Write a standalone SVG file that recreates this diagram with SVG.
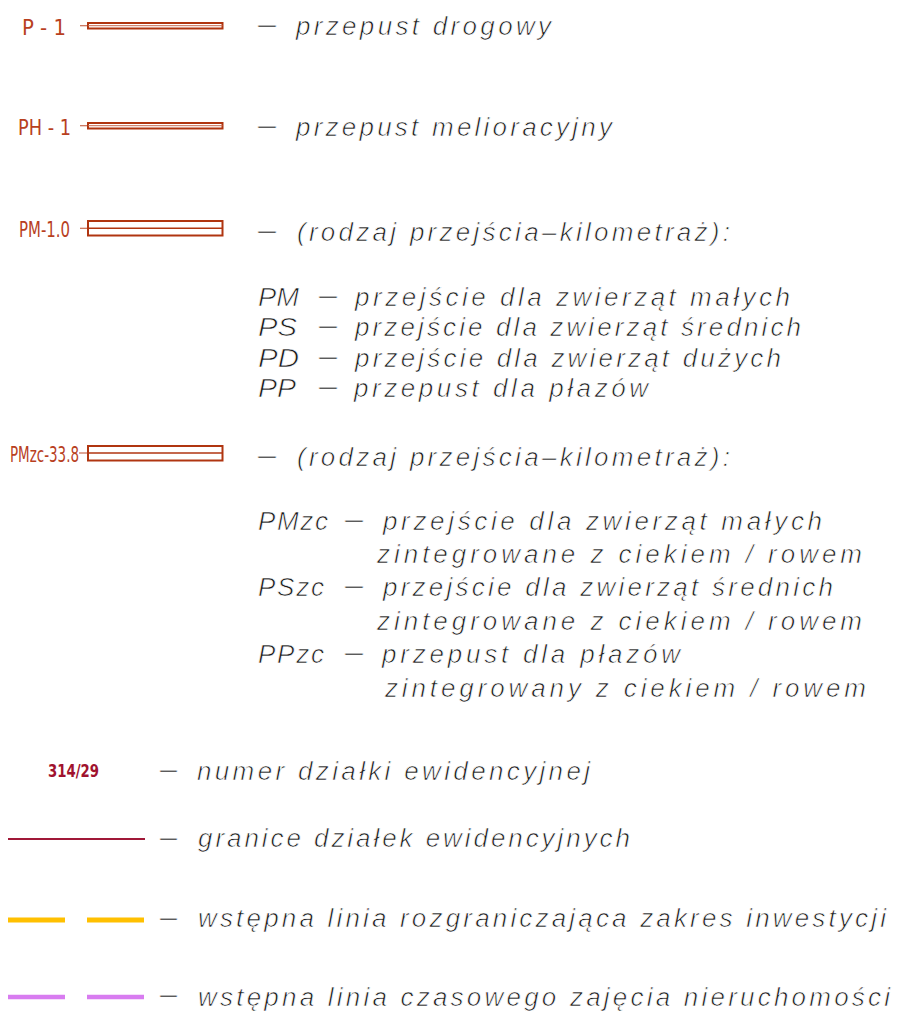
<svg xmlns="http://www.w3.org/2000/svg" width="903" height="1024" viewBox="0 0 903 1024">
<style>
.t{font-family:"Liberation Sans",Arimo,sans-serif;font-style:italic;font-size:26px;fill:#1a1a1a;stroke:#ffffff;stroke-width:0.7}
.d{font-family:"Liberation Sans",Arimo,sans-serif;font-size:26px;fill:#111111;stroke:#ffffff;stroke-width:0.4}
.lbl{font-family:"Liberation Sans Narrow","DejaVu Sans Condensed","Liberation Sans",sans-serif;font-size:22px;fill:#b8401e}
.out{fill:none;stroke:#b03510;stroke-width:2}
.inn{fill:none;stroke:#c86a50;stroke-width:1}
.lead{fill:none;stroke:#c86a50;stroke-width:1.2}
</style>
<rect width="903" height="1024" fill="#ffffff"/>
<g id="p1">
<text class="lbl" x="22" y="35" textLength="44" lengthAdjust="spacingAndGlyphs">P - 1</text>
<line class="lead" x1="80" y1="25.7" x2="88" y2="25.7"/>
<rect class="out" x="88" y="23" width="134.5" height="5.5"/>
<line class="inn" x1="88" y1="25.7" x2="222.5" y2="25.7"/>
<text class="d" x="258" y="33" textLength="18" lengthAdjust="spacingAndGlyphs">–</text>
<text class="t" x="296" y="35" textLength="255" lengthAdjust="spacing">przepust drogowy</text>
</g>
<g id="ph1">
<text class="lbl" x="18" y="135" textLength="53" lengthAdjust="spacingAndGlyphs">PH - 1</text>
<line class="lead" x1="80" y1="125.7" x2="88" y2="125.7"/>
<rect class="out" x="88" y="123" width="134.5" height="5.5"/>
<line class="inn" x1="88" y1="125.7" x2="222.5" y2="125.7"/>
<text class="d" x="258" y="134" textLength="18" lengthAdjust="spacingAndGlyphs">–</text>
<text class="t" x="296" y="136" textLength="316" lengthAdjust="spacing">przepust melioracyjny</text>
</g>
<g id="pm">
<text class="lbl" x="19" y="237" textLength="51" lengthAdjust="spacingAndGlyphs">PM-1.0</text>
<line class="lead" x1="80" y1="228.3" x2="88" y2="228.3"/>
<rect class="out" x="88" y="221" width="134.5" height="14.5"/>
<line class="out" x1="88" y1="228.3" x2="222.5" y2="228.3" style="stroke-width:1.5"/>
<text class="d" x="258" y="239" textLength="18" lengthAdjust="spacingAndGlyphs">–</text>
<text class="t" x="297" y="241" textLength="433" lengthAdjust="spacing">(rodzaj przejścia–kilometraż):</text>
<text class="t" x="258" y="306" textLength="41" lengthAdjust="spacingAndGlyphs">PM</text>
<text class="d" x="319" y="304" textLength="18" lengthAdjust="spacingAndGlyphs">–</text>
<text class="t" x="355" y="306" textLength="435" lengthAdjust="spacing">przejście dla zwierząt małych</text>
<text class="t" x="258" y="336" textLength="39" lengthAdjust="spacingAndGlyphs">PS</text>
<text class="d" x="319" y="334" textLength="18" lengthAdjust="spacingAndGlyphs">–</text>
<text class="t" x="355" y="336" textLength="446" lengthAdjust="spacing">przejście dla zwierząt średnich</text>
<text class="t" x="258" y="366.5" textLength="41" lengthAdjust="spacingAndGlyphs">PD</text>
<text class="d" x="319" y="364.5" textLength="18" lengthAdjust="spacingAndGlyphs">–</text>
<text class="t" x="355" y="366.5" textLength="426" lengthAdjust="spacing">przejście dla zwierząt dużych</text>
<text class="t" x="258" y="397" textLength="38" lengthAdjust="spacingAndGlyphs">PP</text>
<text class="d" x="319" y="395" textLength="18" lengthAdjust="spacingAndGlyphs">–</text>
<text class="t" x="354" y="397" textLength="294" lengthAdjust="spacing">przepust dla płazów</text>
</g>
<g id="pmzc">
<text class="lbl" x="10" y="462" textLength="69" lengthAdjust="spacingAndGlyphs">PMzc-33.8</text>
<line class="lead" x1="79" y1="453" x2="88" y2="453"/>
<rect class="out" x="88" y="446" width="134.5" height="14.5"/>
<line class="out" x1="88" y1="453" x2="222.5" y2="453" style="stroke-width:1.5"/>
<text class="d" x="258" y="464" textLength="18" lengthAdjust="spacingAndGlyphs">–</text>
<text class="t" x="297" y="466" textLength="433" lengthAdjust="spacing">(rodzaj przejścia–kilometraż):</text>
<text class="t" x="258" y="530" textLength="70" lengthAdjust="spacing">PMzc</text>
<text class="d" x="345" y="528" textLength="18" lengthAdjust="spacingAndGlyphs">–</text>
<text class="t" x="383" y="530" textLength="439" lengthAdjust="spacing">przejście dla zwierząt małych</text>
<text class="t" x="377" y="563" textLength="485" lengthAdjust="spacing">zintegrowane z ciekiem / rowem</text>
<text class="t" x="258" y="596" textLength="66" lengthAdjust="spacing">PSzc</text>
<text class="d" x="345" y="594" textLength="18" lengthAdjust="spacingAndGlyphs">–</text>
<text class="t" x="383" y="596" textLength="450" lengthAdjust="spacing">przejście dla zwierząt średnich</text>
<text class="t" x="377" y="630" textLength="485" lengthAdjust="spacing">zintegrowane z ciekiem / rowem</text>
<text class="t" x="258" y="663" textLength="66" lengthAdjust="spacing">PPzc</text>
<text class="d" x="345" y="661" textLength="18" lengthAdjust="spacingAndGlyphs">–</text>
<text class="t" x="382" y="663" textLength="298" lengthAdjust="spacing">przepust dla płazów</text>
<text class="t" x="385" y="697" textLength="481" lengthAdjust="spacing">zintegrowany z ciekiem / rowem</text>
</g>
<g id="nr-dzialki">
<text x="48" y="777" textLength="51" lengthAdjust="spacingAndGlyphs" style="font-family:'Liberation Sans Narrow','DejaVu Sans Condensed',sans-serif;font-weight:bold;font-size:17px;fill:#a0122e">314/29</text>
<text class="d" x="160" y="778" textLength="17" lengthAdjust="spacingAndGlyphs">–</text>
<text class="t" x="197" y="780" textLength="393" lengthAdjust="spacing">numer działki ewidencyjnej</text>
</g>
<g id="granice">
<line x1="8" y1="839" x2="145" y2="839" stroke="#a01838" stroke-width="2"/>
<text class="d" x="160" y="846" textLength="17" lengthAdjust="spacingAndGlyphs">–</text>
<text class="t" x="198" y="847" textLength="432" lengthAdjust="spacing">granice działek ewidencyjnych</text>
</g>
<g id="linia-rozgraniczajaca">
<line x1="8" y1="920" x2="145" y2="920" stroke="#ffc000" stroke-width="5" stroke-dasharray="57 22"/>
<text class="d" x="160" y="926" textLength="17" lengthAdjust="spacingAndGlyphs">–</text>
<text class="t" x="198" y="927" textLength="688" lengthAdjust="spacing">wstępna linia rozgraniczająca zakres inwestycji</text>
</g>
<g id="linia-czasowa">
<line x1="8" y1="997" x2="145" y2="997" stroke="#d87cf0" stroke-width="4.5" stroke-dasharray="57 22"/>
<text class="d" x="160" y="1003" textLength="17" lengthAdjust="spacingAndGlyphs">–</text>
<text class="t" x="198" y="1006" textLength="692" lengthAdjust="spacing">wstępna linia czasowego zajęcia nieruchomości</text>
</g>
</svg>
